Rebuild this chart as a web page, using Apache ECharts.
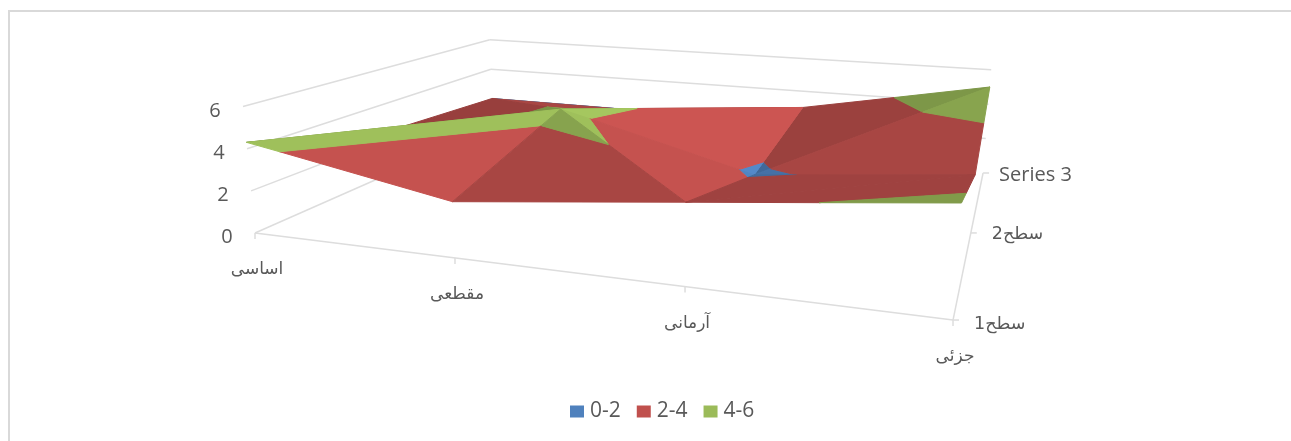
<!DOCTYPE html>
<html><head><meta charset="utf-8">
<style>html,body{margin:0;padding:0;background:#fff}#c{width:1291px;height:441px}</style>
<script src="https://cdn.jsdelivr.net/npm/echarts@6/dist/echarts.min.js"></script>
</head><body><div id="c"></div>
<script>
// ---- data ----
const categories = ['اساسی','مقطعی','آرمانی','جزئی'];
const seriesNames = ['سطح1','سطح2','Series 3'];
const series1 = [4.3,2.5,3.5,4.5];
const series2 = [2.4,4.4,1.8,2.8];
const series3 = [2,2,3,5];
const valueTicks = [0,2,4,6];
const bandNames = ['0-2','2-4','4-6'];
const bandLimits = [[0,2],[2,4],[4,6]];
const bandColors = ['#4F81BD','#C0504D','#9BBB59'];
const rows = [series1,series2,series3];

// ---- camera: perspective projection of the 3D box onto the picture ----
const uPos = [0,.3216,.6545,1], wPos = [0,.49,1], H = 6;
const cam = {a:552.3,b:451.9,c:-19.3,x0:255, d:38.1,e:-49.5,f:-126.5,y0:233, g:-.1529,h:.4338,k:-.03,q:.045};
function project(s,t,v){
  const z=v/H, W=1+cam.g*s+cam.h*t;
  return [(cam.x0+cam.a*s+cam.b*t+cam.c*z)/(W+cam.k*z),(cam.y0+cam.d*s+cam.e*t+cam.f*z*(1+cam.q*s))/W];
}
// vertices, triangles (each cell split on its higher diagonal), painted back to front
const vert=(i,j)=>({s:uPos[i],t:wPos[j],v:rows[j][i],i,j});
const tris=[];
for(let j=0;j<rows.length-1;j++)for(let i=0;i<categories.length-1;i++){
  const A=vert(i,j),B=vert(i+1,j),C=vert(i+1,j+1),D=vert(i,j+1);
  if(A.v+C.v>=B.v+D.v) tris.push([A,B,C],[A,C,D]); else tris.push([A,B,D],[B,C,D]);
}
const depth=T=>T.reduce((m,p)=>m+1+cam.g*p.s+cam.h*p.t,0)/3;
tris.sort((p,q)=>depth(q)-depth(p));
function slopes(T){ // dv/di and dv/dj of the facet's plane
  const [p,q,r]=T;
  const ux=q.i-p.i,uy=q.j-p.j,vx=r.i-p.i,vy=r.j-p.j,a=q.v-p.v,b=r.v-p.v,D=ux*vy-vx*uy;
  return [(a*vy-b*uy)/D,(b*ux-a*vx)/D];
}
function shade(hex,T){
  const [su,sv]=slopes(T);
  const f=.905-.055*su+.012*sv;
  const n=parseInt(hex.slice(1),16);
  return 'rgb('+[n>>16,(n>>8)&255,n&255].map(c=>Math.min(255,Math.round(c*f))).join(',')+')';
}
function clip(poly,limit,keepAbove){
  const out=[];
  for(let n=0;n<poly.length;n++){
    const p=poly[n],q=poly[(n+1)%poly.length];
    const pi=keepAbove?p.v>=limit:p.v<=limit, qi=keepAbove?q.v>=limit:q.v<=limit;
    if(pi)out.push(p);
    if(pi!==qi){const m=(limit-p.v)/(q.v-p.v);out.push({s:p.s+m*(q.s-p.s),t:p.t+m*(q.t-p.t),v:limit});}
  }
  return out;
}
const bandSeries=bandNames.map((name,b)=>({
  name,type:'custom',coordinateSystem:'cartesian2d',clip:false,silent:true,
  itemStyle:{color:bandColors[b]},
  data:tris.map((_,k)=>[k,0]),
  renderItem(params,api){
    const k=api.value(0),T=tris[k];
    const poly=clip(clip(T,bandLimits[b][0],true),bandLimits[b][1],false);
    if(poly.length<3)return null;
    const c=shade(bandColors[b],T);
    return {type:'polygon',z2:10+k,shape:{points:poly.map(p=>api.coord(project(p.s,p.t,p.v)))},
      style:{fill:c,stroke:c,lineWidth:1}};
  }
}));
// ---- axes of the box ----
const GRID='#DDDDDD', TXT='#595959';
const LAT='"Open Sans","DejaVu Sans",sans-serif', ARB='"DejaVu Sans",sans-serif';
const line=(api,p,q,w)=>({type:'line',z2:1,shape:{x1:api.coord(p)[0],y1:api.coord(p)[1],x2:api.coord(q)[0],y2:api.coord(q)[1]},style:{stroke:GRID,lineWidth:w||1.5}});
const label=(api,p,dx,dy,text,font,align)=>{const c=api.coord(p);return {type:'text',z2:100,style:{x:c[0]+dx,y:c[1]+dy,text,font,fill:TXT,align:align||'center',verticalAlign:'middle'}}};
const boxSeries={
  name:'axes',type:'custom',coordinateSystem:'cartesian2d',clip:false,silent:true,data:[[0,0]],
  renderItem(params,api){
    const ch=[];
    valueTicks.forEach(v=>{
      ch.push(line(api,project(0,0,v),project(0,1,v)));
      if(v>0)ch.push(line(api,project(0,1,v),project(1,1,v)));
      ch.push(label(api,project(0,0,v),-28,4.5,String(v),'20px '+LAT));
    });
    ch.push(line(api,project(0,0,0),project(1,0,0)));
    ch.push(line(api,project(1,0,0),project(1,1,0)));
    categories.forEach((t,i)=>{
      const p=project(uPos[i],0,0),c=api.coord(p);
      ch.push({type:'line',z2:1,shape:{x1:c[0],y1:c[1],x2:c[0],y2:c[1]+6},style:{stroke:GRID,lineWidth:1.5}});
      ch.push(label(api,p,2,37,t,'17px '+ARB));
    });
    seriesNames.forEach((t,j)=>{
      const p=project(1,wPos[j],0),c=api.coord(p);
      ch.push({type:'line',z2:1,shape:{x1:c[0],y1:c[1],x2:c[0]+6,y2:c[1]},style:{stroke:GRID,lineWidth:1.5}});
      ch.push(label(api,p,j==2?16:21,[4,2,2][j],t,(j==2?'20px '+LAT:'17.5px '+ARB),'left'));
    });
    return {type:'group',children:ch};
  }
};
const chart=echarts.init(document.getElementById('c'),null,{renderer:'canvas'});
chart.setOption({
  animation:false,backgroundColor:'#fff',
  grid:{left:0,top:0,right:0,bottom:0},
  xAxis:{type:'value',min:0,max:1291,show:false},
  yAxis:{type:'value',min:0,max:441,inverse:true,show:false},
  legend:{data:bandNames,left:565,top:396,padding:5,icon:'rect',itemWidth:14,itemHeight:12,itemGap:16,selectedMode:false,
    textStyle:{color:TXT,fontFamily:'Open Sans',fontSize:21,padding:[0,0,0,1]}},
  graphic:[{type:'polyline',silent:true,shape:{points:[[9,441],[9,11],[1291,11]]},style:{fill:'none',stroke:'#D9D9D9',lineWidth:2}}],
  series:[boxSeries,...bandSeries]
});
</script></body></html>
